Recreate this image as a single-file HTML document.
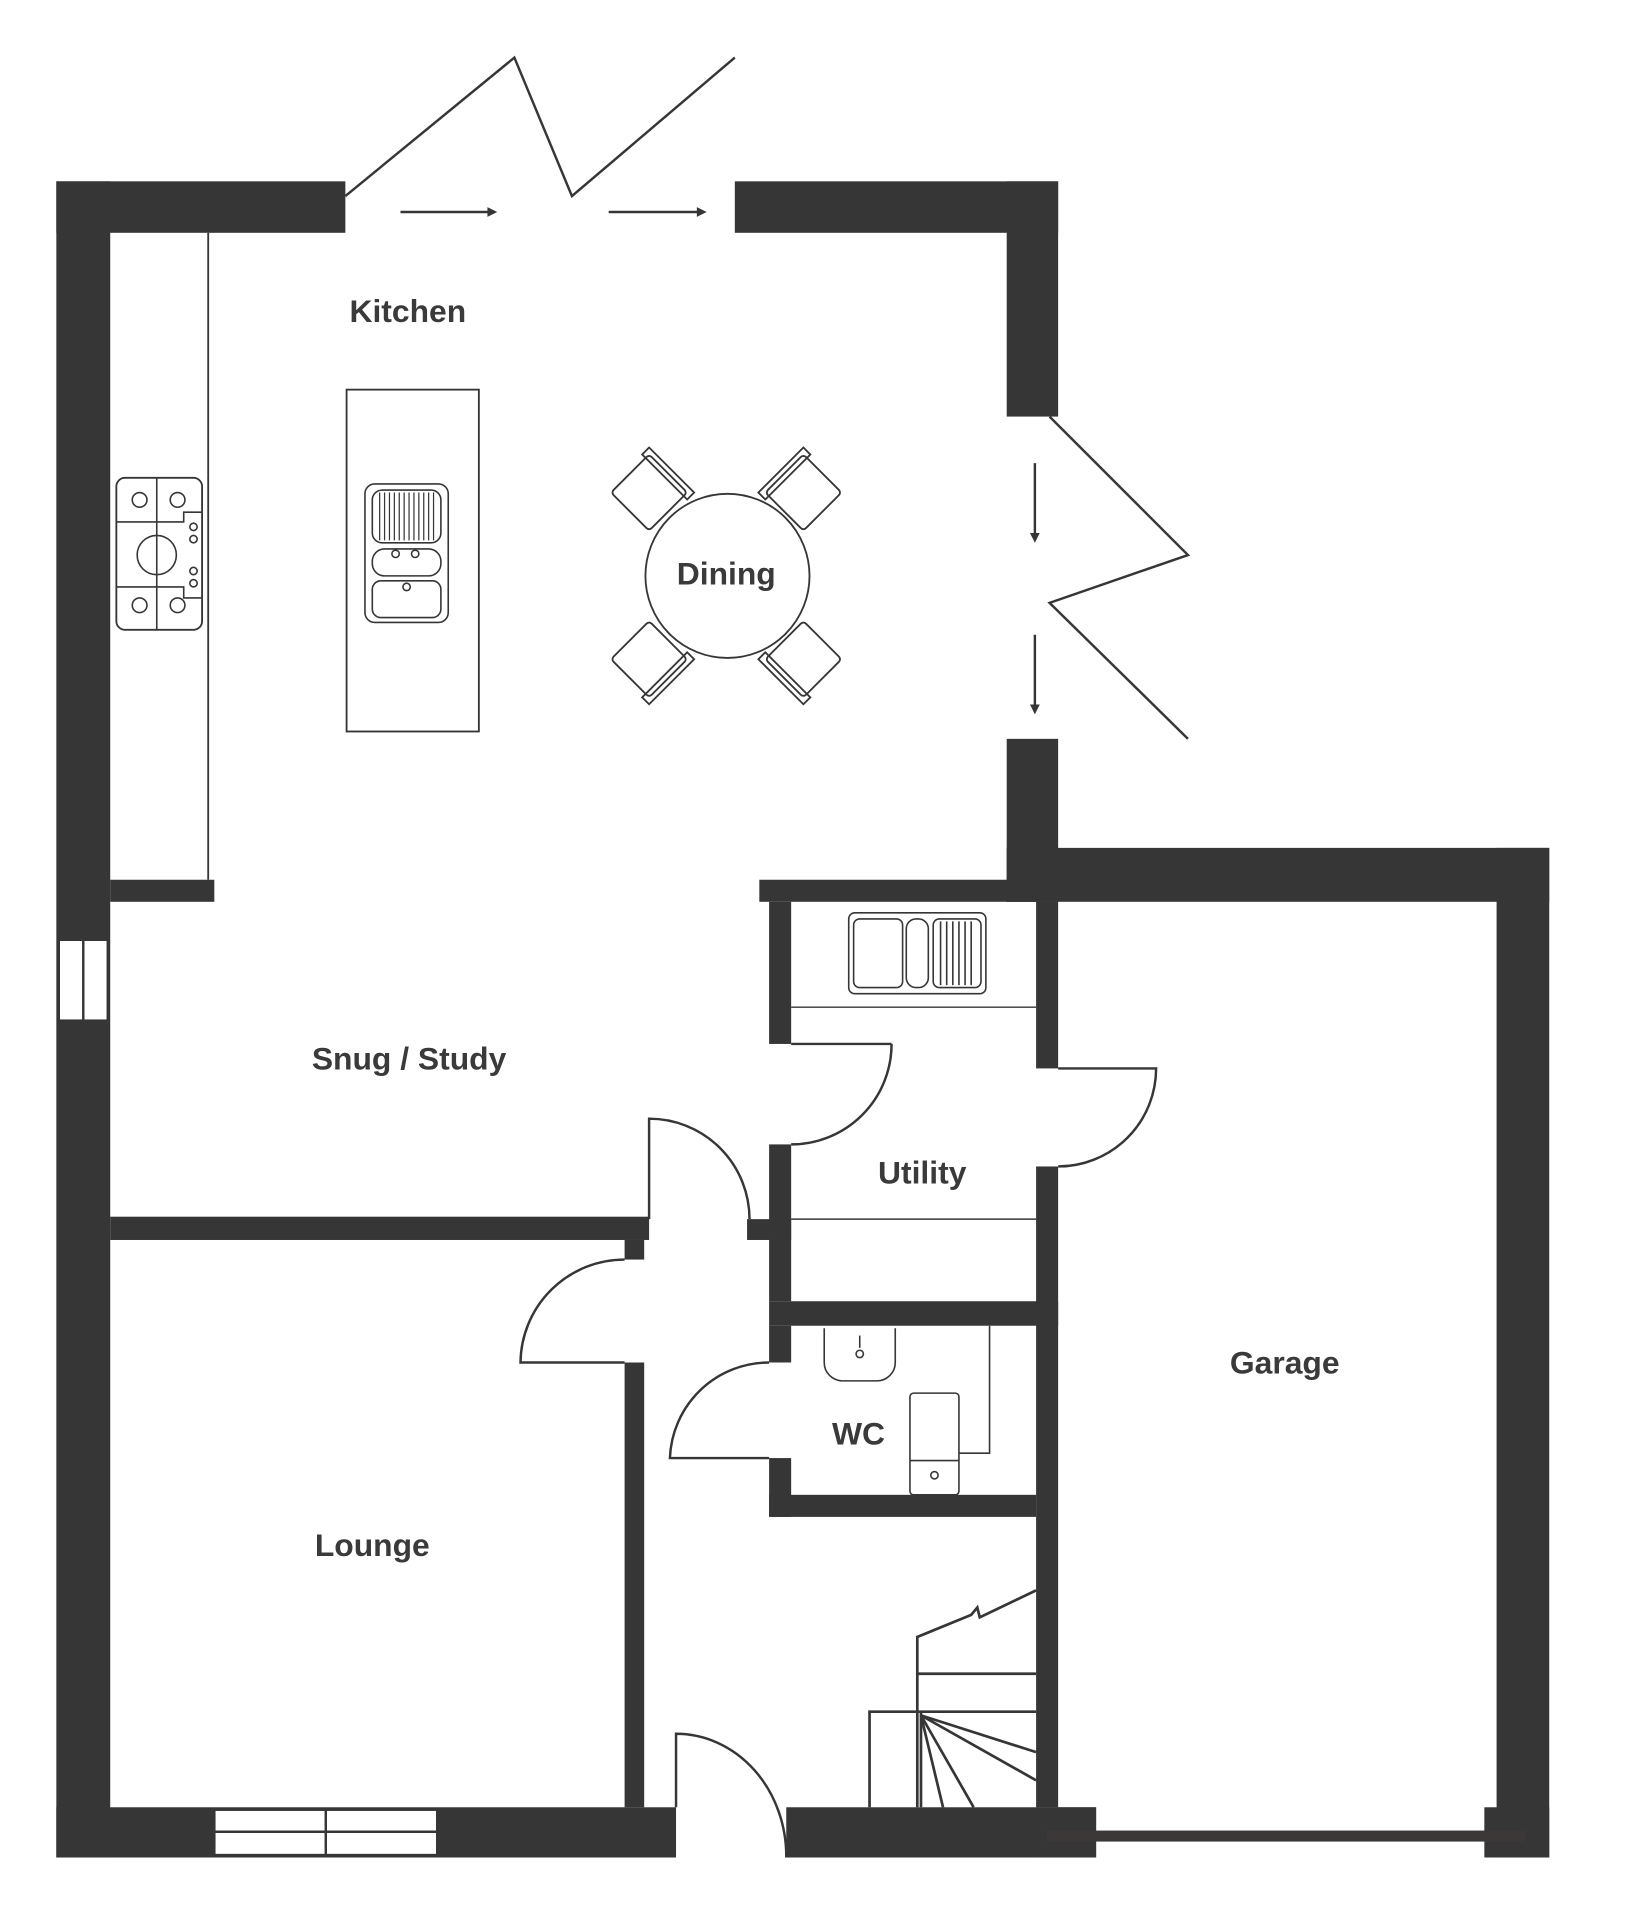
<!DOCTYPE html><html><head><style>html,body{margin:0;padding:0;background:#fff}svg{display:block}text{font-family:"Liberation Sans",sans-serif;font-weight:bold;font-size:26px;fill:#3a3a3a;text-anchor:middle}</style></head><body>
<svg width="1646" height="1920" viewBox="0 0 1344 1567" preserveAspectRatio="none" xmlns="http://www.w3.org/2000/svg">
<g fill="#363636">
<rect x="46" y="148" width="236" height="42"/><rect x="46" y="148" width="44" height="1368"/>
<rect x="600" y="148" width="264" height="42"/><rect x="822" y="148" width="42" height="192"/>
<rect x="822" y="603" width="42" height="133"/>
<rect x="90" y="718" width="85" height="18"/>
<rect x="620" y="718" width="244" height="18"/>
<rect x="822" y="692" width="443" height="44"/><rect x="1222" y="692" width="43" height="824"/>
<rect x="846" y="1475" width="49" height="41"/><rect x="1212" y="1475" width="53" height="41"/>
<rect x="628" y="736" width="18" height="116"/><rect x="628" y="934" width="18" height="128"/><rect x="610" y="995" width="36" height="17"/>
<rect x="846" y="736" width="18" height="136"/><rect x="846" y="952" width="18" height="523"/>
<rect x="628" y="1062" width="236" height="20"/>
<rect x="628" y="1082" width="18" height="30"/><rect x="628" y="1190" width="18" height="48"/><rect x="628" y="1220" width="218" height="18"/>
<rect x="90" y="993" width="440" height="19"/><rect x="510" y="1012" width="16" height="16"/>
<rect x="510" y="1112" width="16" height="363"/>
<rect x="46" y="1475" width="506" height="41"/><rect x="642" y="1475" width="253" height="41"/>
<rect x="855" y="1494" width="390" height="9" fill="#3d3838"/>
</g>
<g fill="#fff" stroke="#363636" stroke-width="2">
<rect x="48" y="767" width="40" height="66"/><line x1="68" y1="767" x2="68" y2="833"/>
<rect x="175" y="1477" width="182" height="37"/><line x1="175" y1="1495" x2="357" y2="1495"/><line x1="266" y1="1477" x2="266" y2="1514"/>
</g>
<g fill="none" stroke="#363636" stroke-width="2">
<polyline points="282,160 420,47 467,160 600,47"/>
<polyline points="857,340 970,453 857,492 970,603"/>
<line x1="327" y1="173" x2="400" y2="173"/><line x1="497" y1="173" x2="570" y2="173"/>
<line x1="845" y1="378" x2="845" y2="437"/><line x1="845" y1="518" x2="845" y2="577"/>
<line x1="170" y1="190" x2="170" y2="718" stroke-width="1.5"/>
<rect x="283" y="318" width="108" height="279" stroke-width="1.5"/>
<rect x="95" y="390" width="70" height="124" rx="7" stroke-width="1.5"/>
<g stroke-width="1.3"><line x1="128" y1="390" x2="128" y2="514"/><polyline points="95,426 150,426 150,418 165,418"/><polyline points="95,479 150,479 150,488 165,488"/>
<circle cx="114" cy="408" r="6"/><circle cx="145" cy="408" r="6"/><circle cx="114" cy="494" r="6"/><circle cx="145" cy="494" r="6"/><circle cx="128" cy="453" r="16"/>
<circle cx="158" cy="430" r="3"/><circle cx="158" cy="440" r="3"/><circle cx="158" cy="466" r="3"/><circle cx="158" cy="476" r="3"/>
<rect x="298" y="395" width="68" height="113" rx="8"/><rect x="304" y="400" width="56" height="43" rx="8"/><rect x="304" y="448" width="56" height="22" rx="10"/><rect x="304" y="474" width="56" height="30" rx="7"/>
<circle cx="323" cy="452" r="3"/><circle cx="339" cy="452" r="3"/><circle cx="332" cy="479" r="3"/></g>
<g stroke-width="1"><path d="M310,402v39M314,402v39M318,402v39M322,402v39M326,402v39M330,402v39M334,402v39M338,402v39M342,402v39M346,402v39M350,402v39M354,402v39"/></g>
<circle cx="594" cy="470" r="67" stroke-width="1.5"/>
<g stroke-width="1.5">
<g transform="translate(530,402) rotate(45)"><rect x="-22" y="-22" width="44" height="44" rx="3"/><rect x="-26" y="-26" width="52" height="8"/></g>
<g transform="translate(656,402) rotate(-45)"><rect x="-22" y="-22" width="44" height="44" rx="3"/><rect x="-26" y="-26" width="52" height="8"/></g>
<g transform="translate(530,538) rotate(135)"><rect x="-22" y="-22" width="44" height="44" rx="3"/><rect x="-26" y="-26" width="52" height="8"/></g>
<g transform="translate(656,538) rotate(-135)"><rect x="-22" y="-22" width="44" height="44" rx="3"/><rect x="-26" y="-26" width="52" height="8"/></g>
</g>
<g stroke-width="1.3"><rect x="693" y="745" width="112" height="66" rx="5"/><rect x="697" y="750" width="40" height="56" rx="5"/><rect x="740" y="750" width="18" height="56" rx="8"/><rect x="762" y="750" width="39" height="56" rx="5"/>
<path d="M768,752v52M773,752v52M778,752v52M783,752v52M788,752v52M793,752v52"/></g>
<line x1="646" y1="822" x2="846" y2="822" stroke-width="1.2"/><line x1="646" y1="995" x2="846" y2="995" stroke-width="1.2"/>
<path d="M728,852 A82,82 0 0 1 646,934" stroke-width="2"/><line x1="646" y1="852" x2="728" y2="852"/>
<path d="M864,872 L944,872 A80,80 0 0 1 864,952"/>
<path d="M530,995 L530,913 A82,82 0 0 1 612,995"/>
<path d="M510,1112 L425,1112 A85,85 0 0 1 510,1028"/>
<path d="M628,1190 L547,1190 A81,81 0 0 1 628,1112"/>
<path d="M552,1475 L552,1415 A90,100 0 0 1 642,1516"/>
<g stroke-width="1.3"><path d="M673,1084 V1112 A15,15 0 0 0 688,1127 H716 A15,15 0 0 0 731,1112 V1084"/><circle cx="702" cy="1105" r="3"/><line x1="702" y1="1090" x2="702" y2="1100"/>
<rect x="743" y="1137" width="40" height="83" rx="3"/><line x1="743" y1="1192" x2="783" y2="1192"/><circle cx="763" cy="1204" r="3"/>
<polyline points="808,1082 808,1186 783,1186"/></g>
<g stroke-width="2.2"><polyline points="749,1475 749,1336 793,1318 798,1312 800,1320 846,1298"/>
<line x1="749" y1="1366" x2="846" y2="1366"/><line x1="749" y1="1397" x2="846" y2="1397"/>
<polyline points="710,1475 710,1397 749,1397"/><line x1="752" y1="1397" x2="752" y2="1475"/>
<line x1="752" y1="1400" x2="846" y2="1453"/><line x1="752" y1="1400" x2="846" y2="1430"/><line x1="752" y1="1400" x2="795" y2="1475"/><line x1="752" y1="1400" x2="770" y2="1475"/></g>
</g>
<g fill="#363636"><path d="M406,173 l-8,-4 v8z"/><path d="M577,173 l-8,-4 v8z"/><path d="M845,443 l-4,-8 h8z"/><path d="M845,583 l-4,-8 h8z"/></g>
<text x="333" y="263">Kitchen</text><text x="593" y="477">Dining</text><text x="334" y="873">Snug / Study</text><text x="753" y="966">Utility</text><text x="701" y="1179">WC</text><text x="1049" y="1121">Garage</text><text x="304" y="1270">Lounge</text>
</svg></body></html>
